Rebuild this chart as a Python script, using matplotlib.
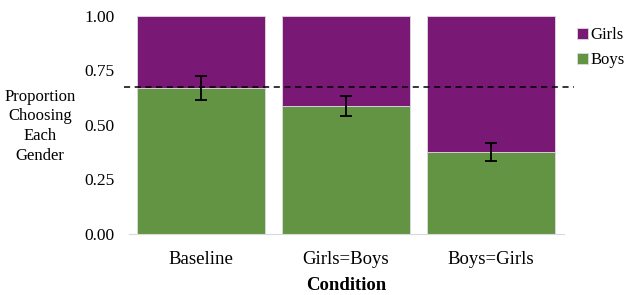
import numpy as np
import matplotlib
matplotlib.use("Agg")
from matplotlib import pyplot as plt

conditions = ["Baseline", "Girls=Boys", "Boys=Girls"]
boys = [0.671, 0.587, 0.376]
girls = [1 - b for b in boys]
boys_err = [0.056, 0.045, 0.042]
chance = 0.672

plt.rcParams["font.family"] = ["Liberation Serif", "DejaVu Serif"]

purple = "#7a1876"
green = "#629443"

fig = plt.figure(figsize=(6.25, 2.95), dpi=100)
ax = fig.add_axes([0.2056, 0.2068, 0.696, 0.739])

x = np.arange(len(conditions))
width = 0.883
ax.bar(x, boys, width, color=green, edgecolor="#dcdcdc", linewidth=0.6, label="Boys")
ax.bar(x, girls, width, bottom=boys, color=purple, edgecolor="#dcdcdc",
       linewidth=0.6, label="Girls")
ax.errorbar(x, boys, yerr=boys_err, fmt="none", ecolor="black",
            elinewidth=1.3, capsize=4, capthick=1.3, zorder=5)
ax.hlines(chance, -0.53, 2.57, colors="black", linestyles=(0, (4, 3)),
          linewidth=1.1, clip_on=False, zorder=6)

ax.set_xlim(-0.5, 2.5)
ax.set_ylim(0, 1)
ax.set_yticks([0, 0.25, 0.5, 0.75, 1.0])
ax.set_yticklabels(["0.00", "0.25", "0.50", "0.75", "1.00"], fontsize=12.5)
ax.set_xticks(x)
ax.set_xticklabels(conditions, fontsize=13.5)
ax.tick_params(axis="both", length=0)
ax.tick_params(axis="x", pad=12)
ax.tick_params(axis="y", pad=10)
for s in ["top", "right", "left"]:
    ax.spines[s].set_visible(False)
ax.spines["bottom"].set_color("#d9d9d9")

ax.set_xlabel("Condition", fontsize=13.5, fontweight="bold", labelpad=7)
fig.text(0.064, 0.572, "Proportion\nChoosing\nEach\nGender", ha="center",
         va="center", fontsize=12, linespacing=1.3)

handles, labels = ax.get_legend_handles_labels()
fig.legend(handles[::-1], labels[::-1], loc="upper left",
           bbox_to_anchor=(0.912, 0.93), frameon=False, fontsize=12,
           handlelength=0.65, handleheight=0.65, handletextpad=0.2,
           labelspacing=0.55, borderaxespad=0)

fig.savefig("out.png", dpi=100)
